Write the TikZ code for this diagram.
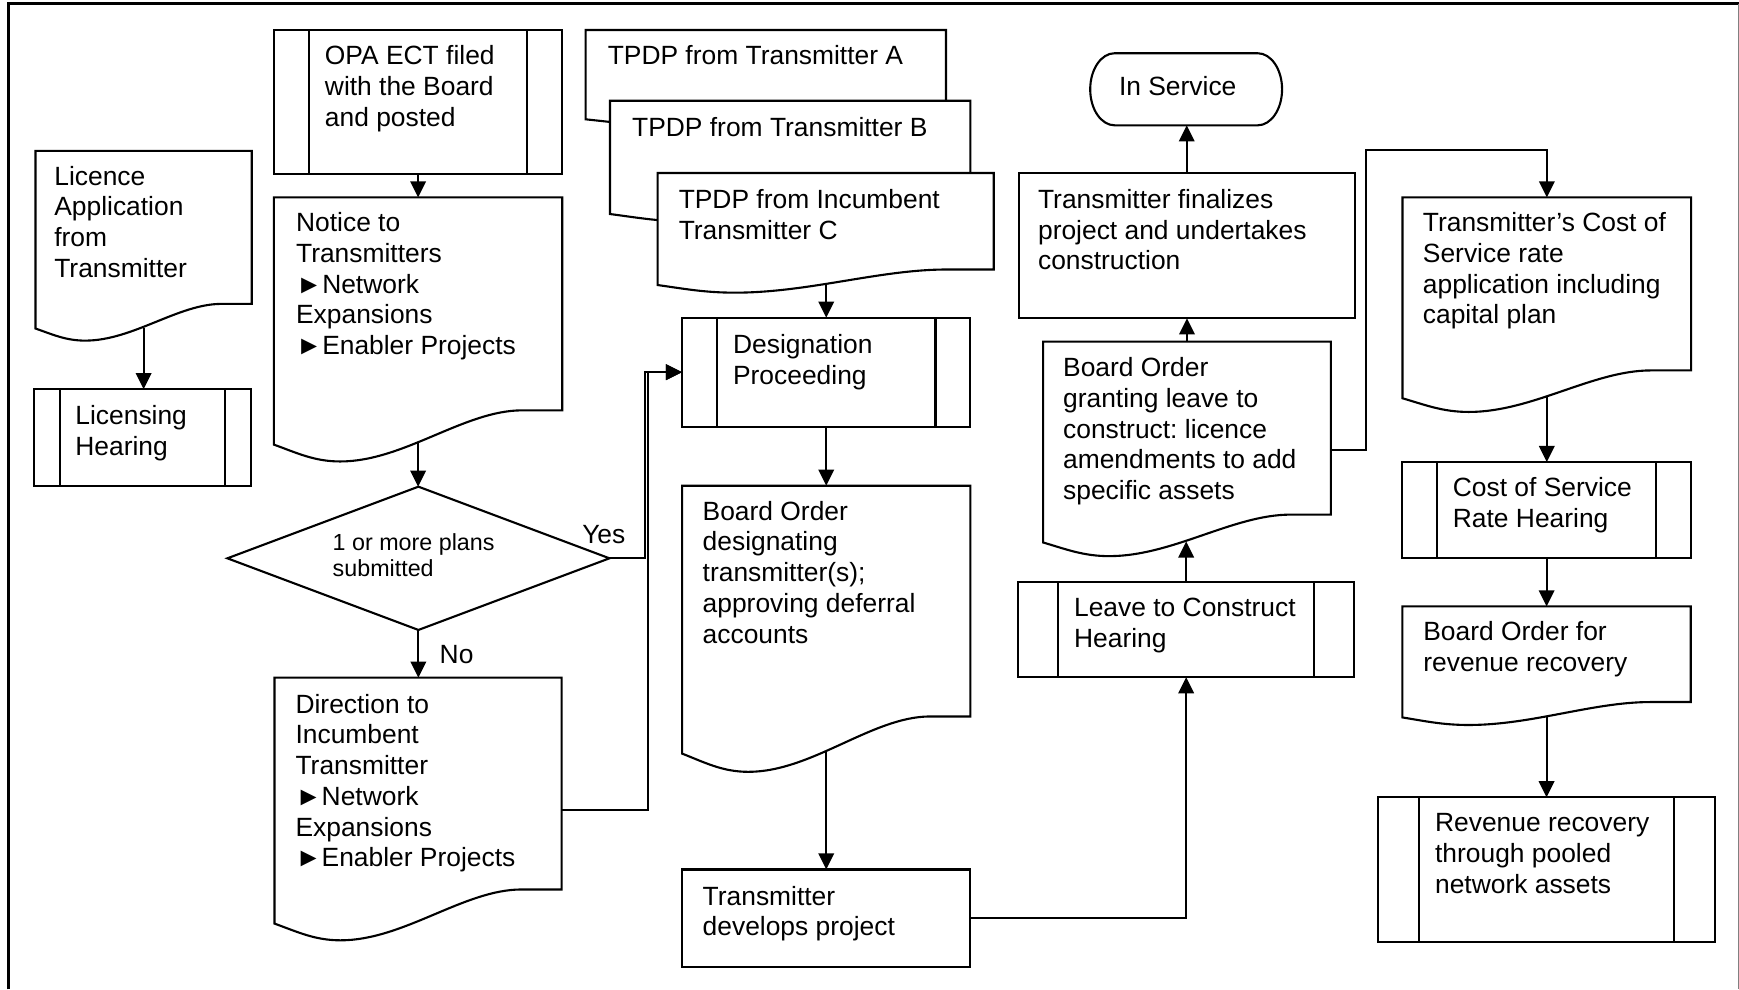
\documentclass[tikz,border=0pt]{standalone}
\usepackage{fontspec}
\setmainfont{Liberation Sans}
\usetikzlibrary{arrows.meta,shapes.geometric,fit,calc}
\frenchspacing
\tikzset{
  boxline/.style={draw=black, line width=1.9pt},
  conn/.style={draw=black, line width=1.7pt, -{Triangle[length=14.5pt,width=14pt]}},
  txt/.style={anchor=north west, inner sep=0pt, outer sep=0pt, align=left, font=\fontsize{23.8}{27.7}\selectfont},
  dtxt/.style={txt, font=\fontsize{21}{24}\selectfont},
  region/.style={inner sep=0pt, outer sep=0pt, draw=none},
}
\newcommand\fl{\rule{0pt}{19pt}}
\newcommand\lbl[4]{\node[txt] (#1) at (#2,#3-19) {\fl #4};}
\newcommand\prc[6]{%
  \node[region, boxline, fill=white, fit={(#2,#3)(#4,#5)}] (#1) {};
  \draw[boxline] ([xshift=#6pt]#1.north west) -- ([xshift=#6pt]#1.south west)
                 ([xshift=-#6pt]#1.north east) -- ([xshift=-#6pt]#1.south east);}
\newcommand\doc[5]{%
  \node[region, fit={(#2,#3)(#4,#5)}] (#1) {};
  \draw[boxline, fill=white] let \p1=(#1.north west), \p2=(#1.south east), \n1={\x2-\x1}, \n2={\y1-\y2} in
    (\p1) -- (\x2,\y1) -- (\p2) -- ({\x1+0.86*\n1},\y2)
    .. controls ({\x1+0.66*\n1},\y2) and ({\x1+0.45*\n1},{\y2-0.24*\n2}) .. ({\x1+0.23*\n1},{\y2-0.24*\n2})
    .. controls ({\x1+0.14*\n1},{\y2-0.24*\n2}) and ({\x1+0.08*\n1},{\y2-0.2*\n2}) .. (\x1,{\y2-0.161*\n2}) -- cycle;
  \path let \p1=(#1.north west), \p2=(#1.south east), \n1={\x2-\x1}, \n2={\y1-\y2} in
    ({\x1+0.5*\n1},{\y2-0.155*\n2}) coordinate (#1-w);}
\begin{document}
\begin{tikzpicture}[x=1pt,y=-1pt]
\useasboundingbox (0,0) rectangle (1568,892);
% frame
\draw[line width=2.6pt] (7.8,892) -- (7.8,3.2) -- (1568,3.2);
\draw[gray, line width=1pt] (1567.2,3.2) -- (1567.2,892);

% left column
\doc{lic}{32}{136}{227}{274}
\lbl{lic-t}{49}{167}{Licence\\Application\\from\\Transmitter}
\prc{lichear}{31}{351}{226}{438}{23.5}
\lbl{lichear-t}{68}{383}{Licensing\\Hearing}

% second column
\prc{opa}{247}{27}{507}{157}{32}
\lbl{opa-t}{293}{58.6}{OPA ECT filed\\with the Board\\and posted}
\doc{notice}{247}{178}{507}{370}
\lbl{notice-t}{267}{209}{Notice to\\Transmitters\\►Network\\Expansions\\►Enabler Projects}
\node[diamond, boxline, fill=white, inner sep=0pt, outer sep=0pt, minimum width=344.5pt, minimum height=129.2pt] (dia) at (377.25,503.4) {};
\node[dtxt] (dia-t) at (300,496-17) {\rule{0pt}{17pt}1 or more plans\\submitted};
\doc{dir}{247.5}{611}{506.4}{802}
\lbl{dir-t}{266.5}{643}{Direction to\\Incumbent\\Transmitter\\►Network\\Expansions\\►Enabler Projects}
\lbl{yes}{525}{490}{Yes}
\lbl{no}{396.5}{598}{No}

% third column
\doc{tpa}{528}{27}{853}{96.4}
\lbl{tpa-t}{548}{58.6}{TPDP from Transmitter A}
\doc{tpb}{550}{90.8}{875}{178.8}
\lbl{tpb-t}{570}{123}{TPDP from Transmitter B}
\doc{tpc}{593}{156}{896}{243}
\lbl{tpc-t}{612}{188}{TPDP from Incumbent\\Transmitter C}
\prc{desig}{615}{286.5}{875}{384.7}{31.5}
\lbl{desig-t}{661}{318.6}{Designation\\Proceeding}
\doc{bodes}{615}{438}{875}{646}
\lbl{bodes-t}{633.6}{469}{Board Order\\designating\\transmitter(s);\\approving deferral\\accounts}
\node[region, boxline, fill=white, fit={(615,784)(875,871.6)}] (dev) {};
\lbl{dev-t}{633.6}{816}{Transmitter\\develops project}

% fourth column
\node[region, fit={(983,48)(1156,113)}] (insvc) {};
\draw[boxline] ([xshift=22pt]insvc.north west) -- ([xshift=-22pt]insvc.north east)
  arc[start angle=90,end angle=-90,x radius=22pt,y radius=32.5pt]
  -- ([xshift=22pt]insvc.south west)
  arc[start angle=270,end angle=90,x radius=22pt,y radius=32.5pt] -- cycle;
\lbl{insvc-t}{1009}{86.5}{In Service}
\node[region, boxline, fill=white, fit={(918.4,156.3)(1221.6,287)}] (fin) {};
\lbl{fin-t}{936}{188}{Transmitter finalizes\\project and undertakes\\construction}
\doc{bogr}{940.5}{308}{1200}{464}
\lbl{bogr-t}{958.6}{339.6}{Board Order\\granting leave to\\construct: licence\\amendments to add\\specific assets}
\prc{leave}{918}{524.5}{1221}{610.6}{36.3}
\lbl{leave-t}{968.5}{556}{Leave to Construct\\Hearing}

% fifth column
\doc{tcost}{1264.6}{178}{1524.8}{334}
\lbl{tcost-t}{1283}{209}{Transmitter’s Cost of\\Service rate\\application including\\capital plan}
\prc{cos}{1264.5}{416.6}{1524.5}{502.8}{31}
\lbl{cos-t}{1310}{447.6}{Cost of Service\\Rate Hearing}
\doc{borev}{1264.5}{546.8}{1524.5}{633}
\lbl{borev-t}{1283.4}{577.8}{Board Order for\\revenue recovery}
\prc{rev}{1242.8}{718.9}{1546.5}{849}{36.8}
\lbl{rev-t}{1294}{750}{Revenue recovery\\through pooled\\network assets}

% connectors
\draw[conn] (opa.south) -- (notice.north);
\draw[conn] (notice-w) -- (notice-w |- dia.north);
\draw[conn] (lic-w) -- (lic-w |- lichear.north);
\draw[conn] (dia.south) -- (dia.south |- dir.north);
\draw[conn] (dia.east) -- ++(32.2,0) |- (desig.west);
\draw[conn] ([yshift=-23.5pt]dir.east) -- ++(78.1,0) |- (desig.west);
\draw[conn] (desig.north |- tpc-w) -- (desig.north);
\draw[conn] (desig.south) -- (bodes.north);
\draw[conn] (bodes-w) -- (bodes-w |- dev.north);
\draw[conn] (dev.east) -| (leave.south);
\draw[conn] (leave.north) -- (leave.north |- bogr-w);
\draw[conn] (bogr.north) -- (bogr.north |- fin.south);
\draw[conn] (fin.north) -- (fin.north |- insvc.south);
\draw[conn] ([yshift=-19.8pt]bogr.east) -- ++(31.8,0) -- ++(0,-270.8) -| (tcost.north);
\draw[conn] (tcost-w) -- (tcost-w |- cos.north);
\draw[conn] (cos.south) -- (borev.north);
\draw[conn] (borev-w) -- (borev-w |- rev.north);
\end{tikzpicture}
\end{document}
